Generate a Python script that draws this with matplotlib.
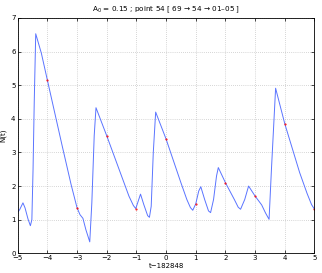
import matplotlib
matplotlib.use("Agg")
import matplotlib.pyplot as plt

t = [-5.0, -4.93, -4.82, -4.75, -4.65, -4.57, -4.52, -4.48, -4.44, -4.39,
     -4.2, -4.0, -3.5, -3.2, -3.0, -2.9, -2.8, -2.7, -2.57, -2.5, -2.42, -2.36,
     -2.0, -1.5, -1.25, -1.1, -1.02, -0.92, -0.86, -0.75, -0.62, -0.56, -0.5, -0.43,
     -0.35, 0.0, 0.5, 0.7, 0.82, 0.9, 1.0, 1.1, 1.17, 1.3, 1.43, 1.5, 1.6, 1.7, 1.76,
     2.0, 2.3, 2.43, 2.51, 2.65, 2.78, 3.0, 3.22, 3.35, 3.47, 3.55, 3.69, 4.0,
     4.5, 4.75, 4.9, 5.0]
n = [1.21, 1.30, 1.50, 1.35, 1.02, 0.82, 1.0, 2.5, 4.5, 6.53,
     5.95, 5.16, 3.2, 2.05, 1.36, 1.15, 1.04, 0.7, 0.34, 1.5, 3.5, 4.33,
     3.5, 2.3, 1.7, 1.42, 1.33, 1.6, 1.76, 1.45, 1.12, 1.07, 1.4, 3.0,
     4.2, 3.4, 2.1, 1.6, 1.36, 1.28, 1.47, 1.85, 1.98, 1.6, 1.26, 1.21, 1.6, 2.3, 2.55,
     2.1, 1.6, 1.37, 1.31, 1.6, 2.0, 1.7, 1.44, 1.2, 1.01, 2.5, 4.91, 3.85,
     2.4, 1.78, 1.45, 1.31]

mark_t = [-4, -3, -2, -1, 0, 1, 2, 3, 4, 5]
mark_n = [5.16, 1.36, 3.5, 1.31, 3.4, 1.47, 2.1, 1.7, 3.85, 1.31]

xticks = [-5, -4, -3, -2, -1, 0, 1, 2, 3, 4, 5]
yticks = [0, 1, 2, 3, 4, 5, 6, 7]

fig = plt.figure(figsize=(3.22, 2.73), dpi=100)
ax = fig.add_axes([0.0547, 0.0722, 0.922, 0.862])
ax.plot(t, n, color='#5a74ff', lw=0.7)
ax.plot(mark_t, mark_n, linestyle='none', marker='.', ms=1.0, color='red')
ax.set_xlim(-5, 5)
ax.set_ylim(0, 7)
ax.set_xticks(xticks)
ax.set_yticks(yticks)
ax.set_xticklabels(['\u2212%d' % -v if v < 0 else str(v) for v in xticks])
ax.tick_params(direction='in', length=2.5, width=0.5, labelsize=5, pad=1.5,
               top=True, right=True)
ax.grid(True, linestyle=(0, (1, 2)), color='#b0b0b0', lw=0.5)
for s in ax.spines.values():
    s.set_linewidth(0.6)
ax.set_title('A$_0$ = 0.15 ; point 54 [ 69 \u2192 54 \u2192 01\u201305 ]', fontsize=5.2, pad=5)
ax.set_xlabel('t\u2212182848', fontsize=5, labelpad=1)
ax.set_ylabel('N(t)', fontsize=5, labelpad=3)
fig.savefig('out.png', dpi=100)
